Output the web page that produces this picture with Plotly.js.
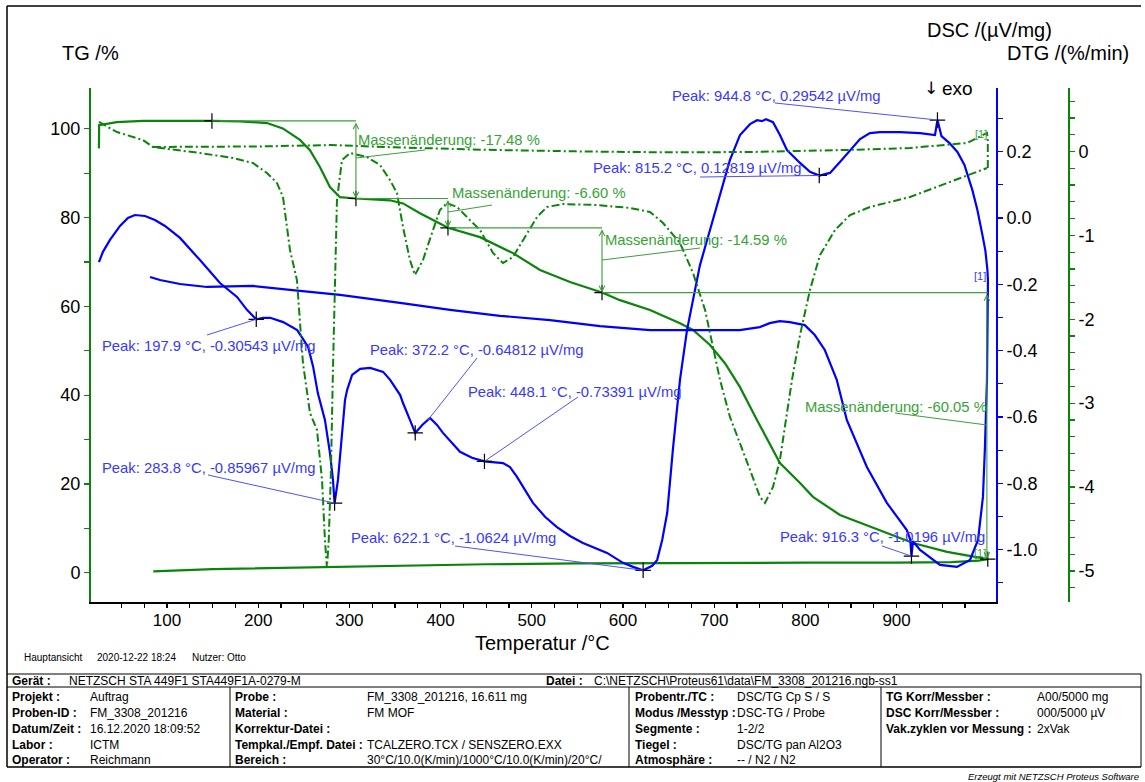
<!DOCTYPE html>
<html>
<head>
<meta charset="utf-8">
<script src="https://cdn.plot.ly/plotly-3.0.1.min.js"></script>
<style>
html,body{margin:0;padding:0;background:#fff;}
#chart{width:1145px;height:782px;}
</style>
</head>
<body>
<div id="chart"></div>
<script>
// ---- TG (mass, %) : heating segment ----
const tgHeatT = [25.4, 25.6, 45.0, 73.7, 149.3, 180.0, 209.6, 227.0, 245.8, 256.8, 267.7, 278.7, 289.7, 307.2, 344.5, 358.8, 377.4, 396.1, 408.1, 443.2, 479.4, 509.0, 541.9, 577.0, 596.7, 629.6, 662.5, 676.8, 695.4, 711.8, 728.3, 746.9, 772.1, 794.1, 808.3, 837.9, 881.8, 918.0, 955.3, 991.4, 1000.0];
const tgHeatV = [95.6, 100.8, 101.5, 101.8, 101.78, 101.7, 101.3, 100.1, 97.5, 95.2, 91.4, 86.9, 84.6, 84.30, 83.9, 83.2, 81.0, 78.9, 77.70, 75.6, 72.0, 68.2, 65.5, 63.11, 61.4, 59.2, 56.2, 54.7, 51.3, 47.2, 41.8, 34.4, 24.7, 20.2, 17.1, 13.0, 9.6, 6.7, 4.7, 3.3, 3.06];

// ---- TG : cooling segment ----
const tgCoolT = [1000.0, 990.0, 960.0, 900.0, 800.0, 650.0, 550.0, 450.0, 350.0, 250.0, 150.0, 85.0];
const tgCoolV = [3.06, 2.7, 2.4, 2.25, 2.25, 2.2, 2.1, 1.9, 1.5, 1.2, 0.8, 0.3];

// ---- DSC (µV/mg) : heating segment ----
const dscHeatT = [25.4, 29.8, 37.5, 48.5, 57.2, 64.9, 75.9, 86.8, 97.8, 114.3, 136.2, 158.1, 176.8, 187.7, 197.9, 205.5, 213.2, 227.4, 242.8, 254.8, 260.3, 265.4, 273.2, 278.7, 282.0, 283.8, 287.5, 289.7, 291.9, 295.2, 297.5, 303.0, 311.8, 322.8, 337.0, 344.7, 355.7, 358.8, 366.4, 372.2, 379.9, 388.4, 396.1, 402.6, 421.3, 434.4, 448.1, 468.4, 476.1, 483.8, 492.5, 501.3, 514.5, 527.6, 541.9, 556.1, 582.5, 600.0, 611.0, 622.1, 632.0, 637.5, 643.0, 648.5, 655.0, 662.5, 670.2, 676.8, 684.4, 695.4, 706.4, 717.3, 728.3, 739.3, 747.0, 752.4, 756.8, 764.5, 772.1, 779.8, 794.1, 805.0, 815.2, 827.0, 837.9, 848.9, 859.9, 870.8, 881.8, 903.7, 925.7, 942.1, 944.8, 949.2, 958.0, 966.7, 974.4, 983.1, 988.6, 994.1, 997.4, 999.6, 1000.2];
const dscHeatV = [-0.133, -0.102, -0.066, -0.024, 0.000, 0.009, 0.006, -0.006, -0.024, -0.060, -0.127, -0.196, -0.238, -0.277, -0.30543, -0.301, -0.301, -0.314, -0.338, -0.389, -0.449, -0.528, -0.609, -0.708, -0.790, -0.85967, -0.790, -0.714, -0.639, -0.549, -0.519, -0.473, -0.455, -0.452, -0.464, -0.488, -0.534, -0.558, -0.609, -0.64812, -0.624, -0.603, -0.624, -0.648, -0.705, -0.723, -0.73391, -0.739, -0.751, -0.781, -0.820, -0.859, -0.901, -0.932, -0.959, -0.980, -1.010, -1.040, -1.052, -1.0624, -1.049, -1.031, -0.971, -0.889, -0.690, -0.488, -0.338, -0.247, -0.142, -0.036, 0.069, 0.175, 0.250, 0.283, 0.295, 0.292, 0.298, 0.289, 0.250, 0.205, 0.166, 0.139, 0.12819, 0.136, 0.169, 0.205, 0.238, 0.256, 0.259, 0.259, 0.256, 0.250, 0.29542, 0.247, 0.226, 0.199, 0.160, 0.084, 0.024, -0.051, -0.099, -0.157, -0.187];

// ---- DSC : cooling segment ----
const dscCoolT = [1000.2, 1000.0, 999.8, 999.1, 996.9, 994.7, 989.3, 980.5, 966.2, 947.6, 925.7, 918.0, 916.3, 915.0, 911.2, 889.3, 867.4, 845.4, 834.4, 821.3, 810.3, 799.3, 782.9, 771.9, 760.9, 750.0, 728.0, 684.4, 629.6, 574.8, 520.0, 465.1, 410.3, 355.5, 289.7, 234.9, 194.3, 143.9, 114.3, 92.3, 81.4];
const dscCoolV = [-0.187, -0.300, -0.410, -0.488, -0.690, -0.841, -0.971, -1.031, -1.052, -1.046, -1.001, -0.975, -1.0196, -0.970, -0.941, -0.859, -0.751, -0.609, -0.488, -0.398, -0.353, -0.323, -0.314, -0.311, -0.317, -0.329, -0.338, -0.338, -0.338, -0.326, -0.308, -0.295, -0.277, -0.256, -0.232, -0.217, -0.205, -0.208, -0.199, -0.187, -0.178];

// ---- DTG (%/min) : heating segment ----
const dtgHeatT = [25.4, 45.2, 73.7, 84.6, 136.2, 172.4, 194.3, 209.6, 220.6, 227.2, 234.9, 242.5, 249.1, 256.8, 264.5, 270.0, 273.2, 275.4, 277.4, 279.8, 282.0, 284.2, 286.4, 291.9, 300.7, 319.3, 333.6, 344.5, 352.2, 358.8, 366.4, 371.9, 380.7, 390.6, 399.3, 407.0, 418.0, 428.9, 443.2, 457.5, 468.4, 479.4, 494.7, 505.7, 516.7, 534.2, 571.5, 607.7, 629.6, 643.9, 662.5, 676.8, 690.0, 706.4, 717.3, 728.3, 739.3, 750.2, 755.7, 764.5, 772.1, 779.8, 785.3, 794.1, 805.0, 816.0, 832.5, 848.9, 870.8, 914.7, 958.6, 994.7, 999.1];
const dtgHeatV = [0.352, 0.232, 0.137, 0.054, -0.018, -0.077, -0.137, -0.256, -0.375, -0.542, -1.174, -1.532, -2.521, -3.117, -3.320, -3.915, -4.630, -4.964, -4.630, -3.800, -2.600, -1.410, -0.578, -0.101, -0.018, -0.066, -0.161, -0.340, -0.495, -0.900, -1.293, -1.472, -1.293, -0.971, -0.697, -0.614, -0.661, -0.781, -0.936, -1.210, -1.329, -1.257, -0.971, -0.781, -0.661, -0.626, -0.638, -0.673, -0.721, -0.852, -1.091, -1.448, -1.889, -2.723, -3.164, -3.474, -3.796, -4.118, -4.190, -3.999, -3.677, -3.117, -2.723, -2.187, -1.651, -1.234, -0.936, -0.757, -0.662, -0.542, -0.364, -0.221, -0.197];

// ---- DTG : cooling segment ----
const dtgCoolT = [1000.0, 1000.0, 999.1, 977.2, 914.7, 850.0, 739.3, 650.0, 560.0, 450.0, 350.0, 280.0, 200.0, 120.0, 84.6];
const dtgCoolV = [-0.197, 0.130, 0.221, 0.101, 0.042, 0.020, -0.006, -0.010, 0.000, 0.020, 0.050, 0.077, 0.060, 0.055, 0.054];

// ---- evaluated DSC peaks ----
const peakT = [197.9, 283.8, 372.2, 448.1, 622.1, 815.2, 944.8, 916.3];
const peakV = [-0.30543, -0.85967, -0.64812, -0.73391, -1.0624, 0.12819, 0.29542, -1.0196];

// ---- evaluated mass changes ----
const massStartT = 149.3;
const massStartV = 101.78;
const massStepT = [307.2, 408.1, 577.0, 1000.0];
const massChange = [-17.48, -6.60, -14.59, -60.05];

// ---- axis ticks ----
const tempTicks = [100, 200, 300, 400, 500, 600, 700, 800, 900];
const tgTicks = [0, 20, 40, 60, 80, 100];
const dscTicks = [-1.0, -0.8, -0.6, -0.4, -0.2, 0.0, 0.2];
const dtgTicks = [-5, -4, -3, -2, -1, 0];

// ---- info table ----
const infoHeader = {device: 'NETZSCH STA 449F1 STA449F1A-0279-M', file: 'C:\\NETZSCH\\Proteus61\\data\\FM_3308_201216.ngb-ss1'};
const infoCols = [
  {labels: ['Projekt :', 'Proben-ID :', 'Datum/Zeit :', 'Labor :', 'Operator :'],
   values: ['Auftrag', 'FM_3308_201216', '16.12.2020 18:09:52', 'ICTM', 'Reichmann']},
  {labels: ['Probe :', 'Material :', 'Korrektur-Datei :', 'Tempkal./Empf. Datei :', 'Bereich :'],
   values: ['FM_3308_201216, 16.611 mg', 'FM MOF', '', 'TCALZERO.TCX / SENSZERO.EXX', '30°C/10.0(K/min)/1000°C/10.0(K/min)/20°C/']},
  {labels: ['Probentr./TC :', 'Modus /Messtyp :', 'Segmente :', 'Tiegel :', 'Atmosphäre :'],
   values: ['DSC/TG Cp S / S', 'DSC-TG / Probe', '1-2/2', 'DSC/TG pan Al2O3', '-- / N2 / N2']},
  {labels: ['TG Korr/Messber :', 'DSC Korr/Messber :', 'Vak.zyklen vor Messung :'],
   values: ['A00/5000 mg', '000/5000 µV', '2xVak']}
];

// ================= drawing =================
const GREEN = '#0b840b';
const GREEN_TXT = '#36a336';
const BLUE = '#0000ff';
const BLUE_TXT = '#3838ff';
const FONT = 'Liberation Sans, Arial, sans-serif';

const X_RANGE = [16.7, 1009.0];
const TG_RANGE = [-6.6, 109.2];
const DSC_RANGE = [-1.158, 0.392];
const DTG_RANGE = [-5.37, 0.757];

// plot frame in page pixels
const W = 1145, H = 782;
const M = {l: 91, r: 76, t: 88, b: 180};
const PX = {l: 91, r: 996, t: 88, b: 602};
const PAPER_W = W - M.l - M.r, PAPER_H = H - M.t - M.b;
const xDomainEnd = (PX.r - PX.l) / PAPER_W;

const tAt = px => X_RANGE[0] + (px - PX.l) / (PX.r - PX.l) * (X_RANGE[1] - X_RANGE[0]);
const valAt = (py, R) => R[0] + (PX.b - py) / (PX.b - PX.t) * (R[1] - R[0]);
const pX = px => (px - M.l) / PAPER_W;
const pY = py => (M.t + PAPER_H - py) / PAPER_H;

function ticksFor(major, step, lo, hi, fmt) {
  const vals = [], text = [];
  for (let v = lo; v <= hi + 1e-9; v += step) {
    const r = Math.round(v * 1000) / 1000;
    vals.push(r);
    const isMajor = major.some(m => Math.abs(m - r) < 1e-6);
    text.push(isMajor ? fmt(r) : '');
  }
  return {vals, text};
}
const xT = ticksFor(tempTicks, 25, 50, 975, v => String(v));
const tgT = ticksFor(tgTicks, 10, 0, 100, v => String(v));
const dscT = ticksFor(dscTicks, 0.1, -1.1, 0.3, v => v.toFixed(1));
const dtgT = ticksFor(dtgTicks, 0.2, -5.2, 0.6, v => String(Math.round(v)));

const dashDot = '8px,3px,2px,3px';
const traces = [
  {x: tgCoolT, y: tgCoolV, yaxis: 'y', mode: 'lines', line: {color: GREEN, width: 2.2}},
  {x: tgHeatT, y: tgHeatV, yaxis: 'y', mode: 'lines', line: {color: GREEN, width: 2.2}},
  {x: dtgCoolT, y: dtgCoolV, yaxis: 'y3', mode: 'lines', line: {color: GREEN, width: 2, dash: dashDot}},
  {x: dtgHeatT, y: dtgHeatV, yaxis: 'y3', mode: 'lines', line: {color: GREEN, width: 2, dash: dashDot}},
  {x: dscCoolT, y: dscCoolV, yaxis: 'y2', mode: 'lines', line: {color: BLUE, width: 2.2}},
  {x: dscHeatT, y: dscHeatV, yaxis: 'y2', mode: 'lines', line: {color: BLUE, width: 2.2}}
];

// mass levels derived from the stated changes
const massLevels = [massStartV];
massChange.forEach(d => massLevels.push(+(massLevels[massLevels.length - 1] + d).toFixed(2)));
const massMarkT = [massStartT].concat(massStepT);

traces.push({x: massMarkT, y: massLevels, yaxis: 'y', mode: 'markers',
  marker: {symbol: 'cross-thin', size: 11, line: {color: '#000', width: 1.2}}});
traces.push({x: peakT, y: peakV, yaxis: 'y2', mode: 'markers',
  marker: {symbol: 'cross-thin', size: 11, line: {color: '#000', width: 1.2}}});

const shapes = [];
const annotations = [];

// mass-change baselines, arrows, labels
const massText = [[356, 140], [450, 193], [603, 240], [803, 407]];
const massLead = [[356, 158, 425, 150], [448, 212, 492, 205], [602, 260, 700, 248], [895, 413, 987, 425]];
for (let i = 0; i < massChange.length; i++) {
  shapes.push({type: 'line', xref: 'x', yref: 'y', x0: massMarkT[i], x1: massMarkT[i + 1],
    y0: massLevels[i], y1: massLevels[i], line: {color: '#3c9e3c', width: 1.2}});
  const ax = Math.min(massMarkT[i + 1], 999.0);
  annotations.push({xref: 'x', yref: 'y', axref: 'x', ayref: 'y', x: ax, y: massLevels[i + 1],
    ax: ax, ay: massLevels[i], text: '', showarrow: true, arrowside: 'end+start',
    arrowhead: 5, startarrowhead: 5, arrowsize: 1, startarrowsize: 1, arrowwidth: 1.1,
    arrowcolor: '#3c9e3c', standoff: 0, startstandoff: 0});
  const L = massLead[i];
  shapes.push({type: 'line', xref: 'x', yref: 'y', x0: tAt(L[0]), y0: valAt(L[1], TG_RANGE),
    x1: tAt(L[2]), y1: valAt(L[3], TG_RANGE), line: {color: '#3c9e3c', width: 1}});
  annotations.push({xref: 'paper', yref: 'paper', x: pX(massText[i][0]), y: pY(massText[i][1]),
    xanchor: 'left', yanchor: 'middle', showarrow: false,
    text: 'Massenänderung: ' + massChange[i].toFixed(2) + ' %',
    font: {family: FONT, size: 14.8, color: GREEN_TXT}});
}

// peak labels and leader lines
const peakText = [[100, 346], [100, 468], [368, 350], [466, 392], [349, 538], [591, 168], [670, 96], [778, 537]];
const peakLeadStart = [[207, 335], [208, 475], [477, 358], [578, 397], [455, 546], [700, 177], [775, 103], [882, 546]];
const peakLeadEnd = [null, null, [428, 420], null, null, null, null, null];
for (let i = 0; i < peakT.length; i++) {
  const s = peakLeadStart[i];
  const e = peakLeadEnd[i];
  shapes.push({type: 'line', xref: 'x', yref: 'y2',
    x0: tAt(s[0]), y0: valAt(s[1], DSC_RANGE),
    x1: e ? tAt(e[0]) : peakT[i], y1: e ? valAt(e[1], DSC_RANGE) : peakV[i],
    line: {color: '#5050ff', width: 1}});
  annotations.push({xref: 'paper', yref: 'paper', x: pX(peakText[i][0]), y: pY(peakText[i][1]),
    xanchor: 'left', yanchor: 'middle', showarrow: false,
    text: 'Peak: ' + peakT[i].toFixed(1) + ' °C, ' + String(peakV[i]) + ' µV/mg',
    font: {family: FONT, size: 14.8, color: BLUE_TXT}});
}

// segment end markers
annotations.push({xref: 'paper', yref: 'paper', x: pX(988), y: pY(276), xanchor: 'right', yanchor: 'middle',
  showarrow: false, text: '[1]', font: {family: FONT, size: 11, color: BLUE_TXT}});
annotations.push({xref: 'paper', yref: 'paper', x: pX(989), y: pY(134), xanchor: 'right', yanchor: 'middle',
  showarrow: false, text: '[1]', font: {family: FONT, size: 11, color: GREEN_TXT}});
annotations.push({xref: 'paper', yref: 'paper', x: pX(988), y: pY(553), xanchor: 'right', yanchor: 'middle',
  showarrow: false, text: '[1]', font: {family: FONT, size: 11, color: GREEN_TXT}});

// axis titles
const titleFont = {family: FONT, size: 20, color: '#000'};
annotations.push({xref: 'paper', yref: 'paper', x: pX(60), y: pY(53), xanchor: 'left', yanchor: 'middle',
  showarrow: false, text: 'TG /%', font: titleFont});
annotations.push({xref: 'paper', yref: 'paper', x: pX(925), y: pY(30), xanchor: 'left', yanchor: 'middle',
  showarrow: false, text: 'DSC /(µV/mg)', font: titleFont});
annotations.push({xref: 'paper', yref: 'paper', x: pX(1005), y: pY(53), xanchor: 'left', yanchor: 'middle',
  showarrow: false, text: 'DTG /(%/min)', font: titleFont});
annotations.push({xref: 'paper', yref: 'paper', x: pX(542), y: pY(643), xanchor: 'center', yanchor: 'middle',
  showarrow: false, text: 'Temperatur /°C', font: titleFont});
// exothermic direction hint
annotations.push({xref: 'paper', yref: 'paper', x: pX(922), y: pY(88), xanchor: 'left', yanchor: 'middle',
  showarrow: false, text: '↓', font: {family: 'DejaVu Sans', size: 17, color: '#000'}});
annotations.push({xref: 'paper', yref: 'paper', x: pX(940), y: pY(88), xanchor: 'left', yanchor: 'middle',
  showarrow: false, text: 'exo', font: {family: FONT, size: 19, color: '#000'}});

// page frame and info table
const pline = (x0, y0, x1, y1, w) => ({type: 'line', xref: 'paper', yref: 'paper',
  x0: pX(x0), y0: pY(y0), x1: pX(x1), y1: pY(y1), line: {color: '#000', width: w || 1}});
shapes.push(pline(7, 6, 1141, 6, 1.5));
shapes.push(pline(7, 6, 7, 767, 1.5));
shapes.push(pline(7, 674, 1141, 674, 1));
shapes.push(pline(7, 687, 1141, 687, 1));
shapes.push(pline(7, 767, 1141, 767, 1.5));
shapes.push(pline(1141, 674, 1141, 767, 1));
[230, 629, 881].forEach(x => shapes.push(pline(x, 687, x, 767, 1)));

const smallFont = {family: FONT, size: 10, color: '#000'};
[['Hauptansicht', 22], ['2020-12-22 18:24', 95], ['Nutzer: Otto', 190]].forEach(([t, x]) =>
  annotations.push({xref: 'paper', yref: 'paper', x: pX(x), y: pY(657), xanchor: 'left', yanchor: 'middle',
    showarrow: false, text: t, font: smallFont}));

const tabFont = {family: FONT, size: 12, color: '#000'};
const cellText = (x, y, t, anchor) => annotations.push({xref: 'paper', yref: 'paper', x: pX(x), y: pY(y),
  xanchor: anchor || 'left', yanchor: 'middle', showarrow: false, text: t, font: tabFont});
cellText(10, 680.5, '<b>Gerät :</b>');
cellText(67, 680.5, infoHeader.device);
cellText(585, 680.5, '<b>Datei :</b>', 'right');
cellText(592, 680.5, infoHeader.file);
const rowY = [697, 713, 729, 744.5, 760];
const colX = [[10, 88], [233, 365], [633, 735], [884, 1035]];
infoCols.forEach((c, ci) => {
  c.labels.forEach((lab, ri) => {
    cellText(colX[ci][0], rowY[ri], '<b>' + lab + '</b>');
    if (c.values[ri]) cellText(colX[ci][1], rowY[ri], c.values[ri]);
  });
});
annotations.push({xref: 'paper', yref: 'paper', x: pX(1141), y: pY(776), xanchor: 'right', yanchor: 'middle',
  showarrow: false, text: '<i>Erzeugt mit NETZSCH Proteus Software</i>', font: {family: FONT, size: 9.5, color: '#000'}});

const tickFont = {family: FONT, size: 18, color: '#000'};
const layout = {
  width: W, height: H,
  margin: {l: M.l, r: M.r, t: M.t, b: M.b, pad: 0},
  paper_bgcolor: '#fff', plot_bgcolor: '#fff',
  showlegend: false, hovermode: false,
  font: {family: FONT},
  xaxis: {domain: [0, xDomainEnd], range: X_RANGE, showgrid: false, zeroline: false,
    showline: true, linecolor: '#000', linewidth: 2, mirror: false,
    ticks: 'outside', ticklen: 4, tickwidth: 1.2, tickcolor: '#000',
    tickmode: 'array', tickvals: xT.vals, ticktext: xT.text,
    tickfont: {family: FONT, size: 17, color: '#000'}, ticklabelstandoff: -2},
  yaxis: {range: TG_RANGE, showgrid: false, zeroline: false, side: 'left',
    showline: true, linecolor: GREEN, linewidth: 2,
    ticks: 'outside', ticklen: 5, tickwidth: 1.2, tickcolor: GREEN,
    tickmode: 'array', tickvals: tgT.vals, ticktext: tgT.text, tickfont: tickFont},
  yaxis2: {range: DSC_RANGE, overlaying: 'y', anchor: 'x', side: 'right', showgrid: false, zeroline: false,
    showline: true, linecolor: BLUE, linewidth: 2,
    ticks: 'outside', ticklen: 5, tickwidth: 1.2, tickcolor: BLUE,
    tickmode: 'array', tickvals: dscT.vals, ticktext: dscT.text, tickfont: tickFont},
  yaxis3: {range: DTG_RANGE, overlaying: 'y', anchor: 'free', position: 1, side: 'right',
    showgrid: false, zeroline: false, showline: true, linecolor: GREEN, linewidth: 2,
    ticks: 'outside', ticklen: 5, tickwidth: 1.2, tickcolor: GREEN,
    tickmode: 'array', tickvals: dtgT.vals, ticktext: dtgT.text, tickfont: tickFont},
  shapes: shapes,
  annotations: annotations
};

Plotly.newPlot('chart', traces, layout, {displayModeBar: false, staticPlot: true});
</script>
</body>
</html>
